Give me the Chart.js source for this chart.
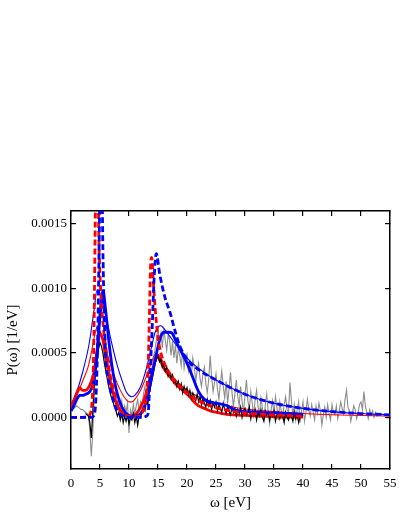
<!DOCTYPE html>
<html>
<head>
<meta charset="utf-8">
<script src="https://cdn.jsdelivr.net/npm/chart.js@4/dist/chart.umd.min.js"></script>
<style>
  html, body { margin: 0; padding: 0; background: #fff; }
  canvas { display: block; }
</style>
</head>
<body>
<canvas id="pChart" width="399" height="516"></canvas>
<script>
// values of P(w) are kept in units of 1e-4 1/eV, labels are converted back
const xTicks = [0, 5, 10, 15, 20, 25, 30, 35, 40, 45, 50, 55];
const yTicks = [0, 5, 10, 15];

// noisy reference spectra, sampled every 0.25 eV
const grayStart = 0;
const grayStep = 0.25;
const grayP = [
    0.5, 0.6, 0.7, 0.8, 0.9, 0.8, 0.7, 0.6, 0.6, 0.5,
    0.4, 0.3, 0.2, -1.0, -3.0, -1.2, 1.5, 4.0, 6.0, 7.8,
    8.8, 8.2, 7.6, 6.4, 5.5, 4.8, 4.0, 3.3, 2.6, 2.4,
    1.6, 2.0, 0.9, 1.4, 0.6, 1.3, 0.2, 0.9, 0.4, 1.1,
    -1.2, 0.6, 0.2, 1.0, 0.3, 0.9, 1.4, 0.5, 1.2, 0.7,
    1.8, 2.4, 1.5, 2.6, 3.2, 2.8, 4.0, 4.6, 5.3, 6.1,
    6.9, 5.8, 6.5, 5.4, 6.8, 6.0, 5.2, 6.4, 6.0, 4.8,
    5.9, 4.6, 5.6, 4.2, 5.3, 4.8, 4.0, 5.2, 3.8, 4.6,
    4.9, 3.6, 4.3, 3.2, 4.6, 3.9, 2.8, 3.6, 4.2, 3.0,
    2.4, 3.4, 3.9, 2.6, 1.9, 3.0, 4.8, 3.1, 2.0, 2.7,
    3.4, 2.2, 1.4, 2.6, 3.6, 2.4, 1.5, 2.8, 1.1, 2.2,
    3.5, 2.0, 0.8, 1.8, 2.9, 1.6, 0.9, 2.4, 1.2, 0.4,
    1.8, 2.9, 1.3, 0.6, 2.0, 1.1, 0.2, 1.4, 2.1, 0.8,
    0.3, 1.5, 0.7, -0.3, 1.0, 1.8, 0.4, -0.5, 0.6, 1.3,
    0.2, 1.6, 0.8, -0.2, 1.2, 0.5, 0.0, 1.0, 1.6, 0.6,
    0.4, 2.7, 1.3, 0.2, 1.0, -0.2, 0.6, 1.2, -0.4, 0.5,
    1.2, -0.3, 0.4, 1.4, 0.6, 0.1, 1.0, 0.4, -0.2, 0.9,
    0.3, 1.1, 0.5, -0.6, 0.2, 0.8, 0.0, 1.0, 0.3, -0.2,
    1.0, 0.4, 0.2, 0.9, -0.1, 0.5, 1.2, 0.7, 0.3, 1.4,
    2.1, 0.8, 0.5, -0.3, 0.3, 0.9, 0.6, -0.1, 0.4, 1.0,
    1.2, 0.6, 2.0, 0.9, 0.4, -0.1, 0.6, 0.2, 0.5, 0.0,
    0.4, 0.1, 0.3
];
const blackStart = 2.5;
const blackStep = 0.25;
const blackP = [
    0.3, 0.2, 0.1, -0.4, -1.6, 0.4, 2.5, 3.6, 4.5, 5.3,
    5.8, 5.5, 5.0, 4.2, 3.6, 3.0, 2.4, 1.9, 1.5, 1.2,
    0.8, 0.5, 0.1, 0.4, -0.2, 0.3, -0.4, 0.1, -0.3, 0.2,
    -0.5, 0.0, -0.2, 0.3, -0.4, 0.1, -0.6, 0.2, 0.0, 0.4,
    0.7, 0.5, 1.3, 1.0, 2.0, 2.4, 3.0, 3.6, 4.2, 4.5,
    4.8, 4.3, 4.5, 3.9, 4.1, 3.6, 3.9, 3.2, 3.5, 3.0,
    3.3, 2.7, 2.9, 2.4, 2.8, 2.2, 2.6, 1.9, 2.4, 2.0,
    2.3, 1.7, 2.1, 1.5, 1.9, 1.6, 1.3, 1.8, 1.2, 1.6,
    1.0, 1.5, 1.1, 0.8, 1.4, 0.9, 1.3, 0.6, 1.1, 0.8,
    1.2, 0.5, 1.0, 0.7, 0.4, 1.1, 0.6, 0.3, 0.9, 0.5,
    0.2, 0.8, 0.4, 0.7, 0.1, 0.6, 0.3, 0.8, 0.0, 0.5,
    0.7, 0.2, 0.4, 0.8, -0.1, 0.5, 0.2, 0.6, -0.2, 0.4,
    0.1, 0.6, 0.0, -0.3, 0.5, 0.2, 0.4, -0.2, 0.3, 0.1,
    0.5, -0.3, 0.2, 0.4, -0.1, 0.3, 0.1, -0.4, 0.4, 0.0,
    -0.2, 0.3, 0.1, -0.3, 0.4, -0.1, 0.2, -0.4, 0.1, 0.2,
    0.1
];

// model curves
const redThickW = [0, 0.5, 1, 1.5, 2, 2.5, 3, 3.5, 4, 4.5, 5, 5.5, 6, 6.5, 7, 8, 9, 10, 11, 12, 13, 14, 14.5, 15, 15.5, 16, 17, 18, 19, 20, 20.5, 21, 22, 23, 24, 25, 26, 28, 30, 35, 40];
const redThickP = [0.8, 1.3, 1.9, 2.3, 2.1, 2.1, 2.3, 2.8, 3.6, 5.2, 6.5, 6.0, 4.6, 3.4, 2.3, 0.9, 0.3, 0.1, 0.2, 0.8, 1.9, 3.5, 4.4, 4.7, 4.3, 3.8, 3.2, 2.6, 2.2, 1.8, 1.6, 1.3, 0.9, 0.7, 0.5, 0.4, 0.3, 0.2, 0.15, 0.05, 0.02];

const redThinW = [0, 1, 2, 3, 3.5, 4, 4.5, 5, 5.5, 6, 7, 8, 9, 9.5, 10, 10.5, 11, 12, 13, 14, 14.5, 15, 16, 17, 18, 20, 22, 25, 30, 35, 40, 45, 50, 55];
const redThinP = [0.9, 1.7, 2.8, 4.0, 5.0, 6.2, 7.0, 6.7, 6.0, 5.3, 3.8, 2.6, 1.7, 1.4, 1.2, 1.2, 1.4, 2.1, 3.2, 4.4, 4.9, 4.9, 4.2, 3.5, 2.9, 2.1, 1.6, 1.1, 0.65, 0.45, 0.3, 0.2, 0.15, 0.1];

const blueThinW = [0, 1, 2, 3, 3.5, 4, 4.5, 5, 5.5, 6, 7, 8, 9, 9.5, 10, 10.5, 11, 12, 13, 14, 14.5, 15, 15.5, 16, 17, 18, 20, 22, 25, 30, 35, 40, 45, 50, 55];
const blueThinP = [1.0, 2.0, 3.5, 5.4, 6.8, 8.4, 9.9, 9.6, 8.8, 7.9, 5.8, 4.0, 2.6, 2.0, 1.7, 1.6, 1.7, 2.4, 3.8, 5.7, 6.6, 7.0, 7.1, 6.9, 6.3, 5.7, 4.6, 3.8, 2.9, 1.8, 1.1, 0.7, 0.45, 0.3, 0.2];

const blueThickW = [0, 0.5, 1, 1.5, 2, 2.5, 3, 3.5, 4, 4.5, 5, 5.5, 6, 6.5, 7, 7.5, 8, 9, 10, 11, 12, 13, 14, 15, 15.5, 16, 17, 17.5, 18, 19, 20, 21, 22, 23, 24, 25, 27, 28, 30, 35, 40];
const blueThickP = [0.5, 0.9, 1.4, 1.7, 1.7, 1.8, 1.9, 2.2, 3.0, 5.0, 7.8, 9.8, 8.2, 6.0, 4.2, 2.8, 1.8, 0.6, 0.15, 0.1, 0.3, 1.3, 3.3, 5.5, 6.3, 6.6, 6.6, 6.5, 6.0, 5.1, 4.2, 3.1, 2.0, 1.4, 1.2, 1.1, 0.9, 0.6, 0.45, 0.35, 0.25];

const redDashW = [0, 1, 2, 3, 3.5, 3.8, 4.0, 4.2, 4.5, 4.8, 5.0, 5.3, 5.7, 6.2, 6.7, 7.2, 8, 9, 10, 11, 12, 12.5, 13, 13.3, 13.5, 13.7, 13.9, 14.2, 14.5, 15, 15.5, 16, 17, 18, 20, 22, 25, 30, 35, 40];
const redDashP = [0, 0, 0, 0.1, 0.6, 3.0, 8.0, 16, 24, 14, 11, 8.5, 6.5, 4.8, 3.4, 2.4, 1.0, 0.3, 0.1, 0.05, 0.2, 0.6, 1.8, 4.0, 7.5, 11.5, 12.4, 10.5, 8.5, 6.2, 5.0, 4.3, 3.4, 2.8, 1.9, 1.3, 0.75, 0.35, 0.2, 0.1];

const blueDashW = [0, 1, 2, 3, 3.5, 4.0, 4.3, 4.6, 4.9, 5.2, 5.5, 5.8, 6.0, 6.5, 7, 7.5, 8, 9, 10, 11, 12, 12.5, 13, 13.3, 13.6, 14.0, 14.3, 14.7, 15.3, 16.2, 17.1, 18, 18.8, 20, 22, 25, 30, 35, 40, 45, 50, 55];
const blueDashP = [0, 0, 0, 0, 0, 0.2, 1.5, 6, 15, 24, 13, 7, 4.5, 2.8, 1.8, 1.0, 0.5, 0.1, 0, 0, 0, 0, 0.1, 0.3, 3.0, 7.0, 10.5, 12.7, 11.1, 9.3, 8.1, 6.6, 5.5, 4.5, 3.7, 2.9, 1.8, 1.1, 0.7, 0.45, 0.3, 0.2];

const SERIF = "'Liberation Serif', 'Times New Roman', Times, serif";

function pairs(ws, ps) {
    return ws.map((w, i) => ({ x: w, y: ps[i] }));
}
function stepped(start, step, ps) {
    return ps.map((p, i) => ({ x: start + i * step, y: p }));
}
function line(data, color, width, order, extra) {
    return Object.assign({
        data: data,
        borderColor: color,
        borderWidth: width,
        pointRadius: 0,
        fill: false,
        order: order,
    }, extra || {});
}

const smooth = { cubicInterpolationMode: "monotone" };
const dashed = { cubicInterpolationMode: "monotone", borderDash: [6, 3] };

function useTicks(list) {
    return (scale) => { scale.ticks = list.map((v) => ({ value: v })); };
}
function noSidePad(scale) {
    scale.paddingLeft = 0;
    scale.paddingRight = 0;
    scale.paddingTop = 0;
    scale.paddingBottom = 0;
}

const pChart = new Chart(document.getElementById("pChart"), {
    type: "line",
    data: {
        datasets: [
            line(stepped(grayStart, grayStep, grayP), "#8c8c8c", 1.1, 9),
            line(pairs(redThinW, redThinP), "#ff0000", 1.1, 8, smooth),
            line(pairs(blueThinW, blueThinP), "#0000ff", 1.1, 7, smooth),
            line(pairs(redThickW, redThickP), "#ff0000", 2.8, 6, smooth),
            line(stepped(blackStart, blackStep, blackP), "#000000", 1.2, 5),
            line(pairs(blueThickW, blueThickP), "#0000ff", 2.8, 4, smooth),
            line(pairs(redDashW, redDashP), "#ff0000", 2.8, 3, dashed),
            line(pairs(blueDashW, blueDashP), "#0000ff", 2.8, 2, dashed),
        ],
    },
    options: {
        responsive: false,
        animation: false,
        layout: { padding: { top: 211, right: 9, left: 0, bottom: 0 } },
        plugins: { legend: { display: false }, tooltip: { enabled: false } },
        scales: {
            x: {
                type: "linear",
                position: "bottom",
                min: 0,
                max: 55,
                afterBuildTicks: useTicks(xTicks),
                afterFit: (s) => { s.height = 47; noSidePad(s); },
                ticks: { color: "#000", font: { family: SERIF, size: 13 }, padding: 12, maxRotation: 0 },
                grid: { drawOnChartArea: false, drawTicks: true, tickLength: -5, color: "#000", lineWidth: 1.2 },
                border: { display: true, color: "#000", width: 1.5 },
                title: { display: true, text: "ω [eV]", color: "#000", font: { family: SERIF, size: 15 }, padding: { top: 4, bottom: 4 } },
            },
            x2: {
                type: "linear",
                position: "top",
                min: 0,
                max: 55,
                afterBuildTicks: useTicks(xTicks),
                afterFit: (s) => { s.height = 0; noSidePad(s); },
                ticks: { display: false },
                grid: { drawOnChartArea: false, drawTicks: true, tickLength: -5, color: "#000", lineWidth: 1.2 },
                border: { display: true, color: "#000", width: 1.5 },
            },
            y: {
                type: "linear",
                position: "left",
                min: -4,
                max: 16,
                afterBuildTicks: useTicks(yTicks),
                afterFit: (s) => { s.width = 71; noSidePad(s); },
                ticks: {
                    color: "#000",
                    font: { family: SERIF, size: 13 },
                    padding: 9,
                    callback: (v) => (v / 10000).toFixed(4),
                },
                grid: { drawOnChartArea: false, drawTicks: true, tickLength: -5, color: "#000", lineWidth: 1.2 },
                border: { display: true, color: "#000", width: 1.5 },
                title: { display: true, text: "P(ω) [1/eV]", color: "#000", font: { family: SERIF, size: 15 }, padding: { top: 4, bottom: 4 } },
            },
            y2: {
                type: "linear",
                position: "right",
                min: -4,
                max: 16,
                afterBuildTicks: useTicks(yTicks),
                afterFit: (s) => { s.width = 0; noSidePad(s); },
                ticks: { display: false },
                grid: { drawOnChartArea: false, drawTicks: true, tickLength: -5, color: "#000", lineWidth: 1.2 },
                border: { display: true, color: "#000", width: 1.5 },
            },
        },
    },
});
</script>
</body>
</html>
